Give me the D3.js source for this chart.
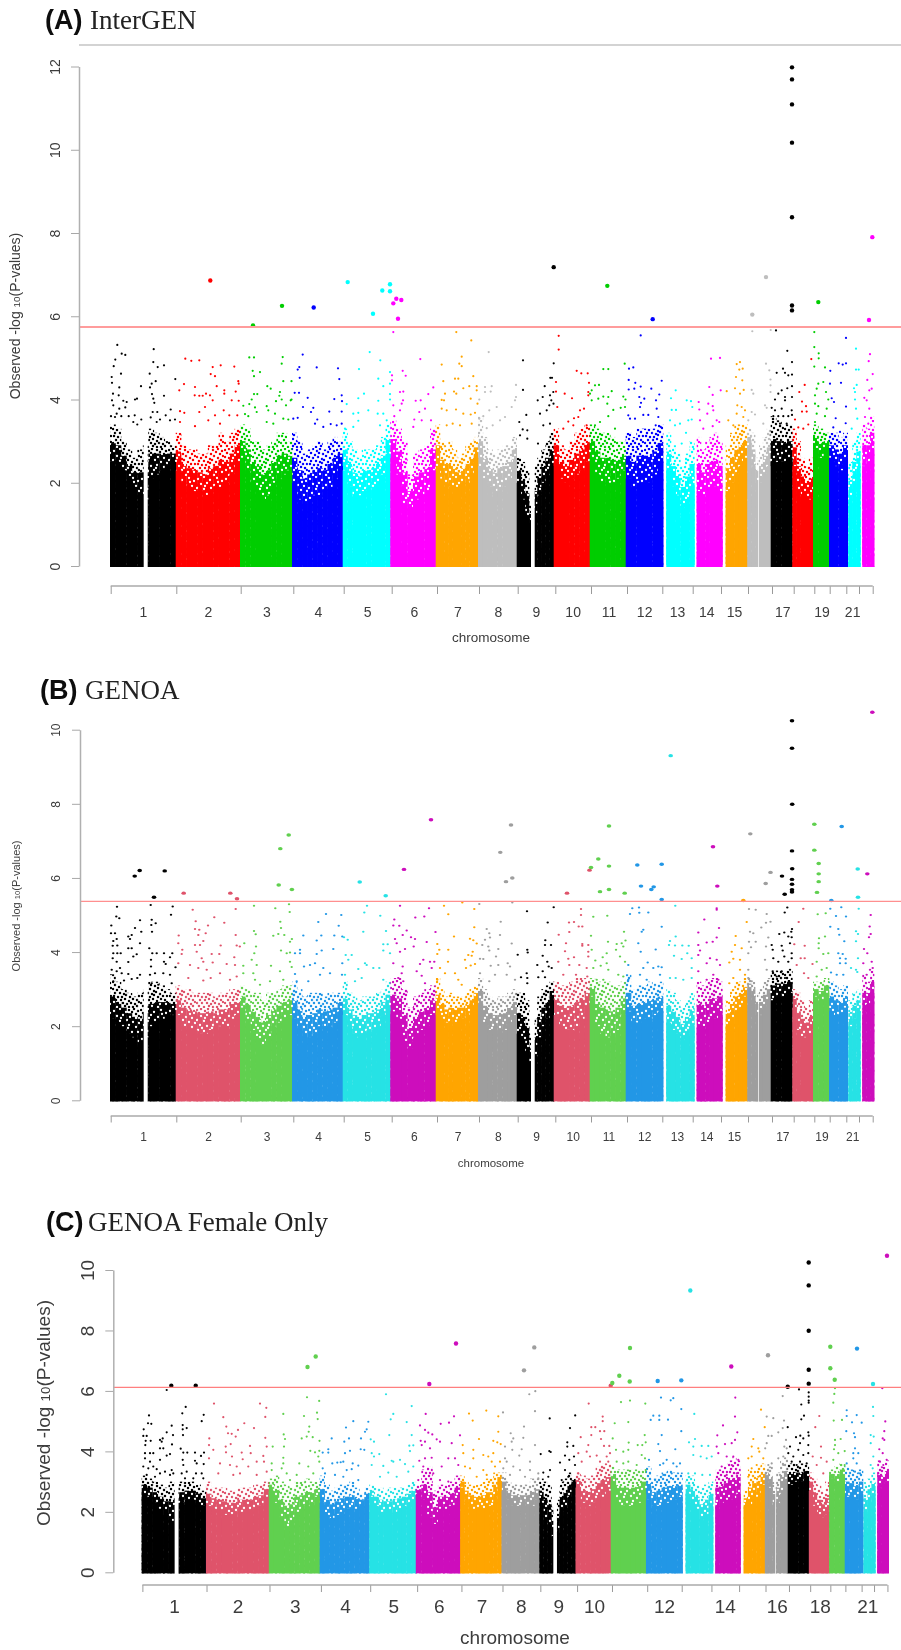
<!DOCTYPE html>
<html>
<head>
<meta charset="utf-8">
<title>Manhattan plots</title>
<script src="https://cdn.jsdelivr.net/npm/d3@7"></script>
<style>
  html, body { margin: 0; padding: 0; background: #fff; }
  svg { display: block; }
  text { font-family: "Liberation Sans", Arial, sans-serif; }
</style>
</head>
<body>
<div id="svg-container"></div>
<script>
//==============================
// DATA
//==============================
// genome axis runs 0..764, chromosomes laid out one after the other
const genomeSpan = 764;
const chrStart = [0, 65.7, 130, 182, 232.7, 280.3, 325.7, 368, 406.7, 443.7, 479.7, 515.7, 556.3, 586.7, 615.7, 637.3, 660.7, 682.3, 703, 719, 738.3, 752.3];
const chrEnd = [65.7, 130, 182, 232.7, 280.3, 325.7, 368, 406.7, 443.7, 479.7, 515.7, 553, 584.3, 612.3, 637.3, 660.7, 682.3, 703, 719, 737.7, 750.3, 764];
// centromere gaps where nothing is plotted
const chrGaps = [[33.7, 37.7], [421, 424.7], [648, 648.7]];
const tickPos = [0.7, 66.3, 130.7, 183.3, 233.7, 281.7, 327, 369, 407.7, 445.3, 481, 517, 552.3, 582.7, 611, 638, 662, 683.7, 704.3, 719.7, 736.3, 749, 762.7];
const labelsAB = ["1", "2", "3", "4", "5", "6", "7", "8", "9", "10", "11", "12", "13", "14", "15", "", "17", "", "19", "", "21", ""];
const labelsC = ["1", "2", "3", "4", "5", "6", "7", "8", "9", "10", "", "12", "", "14", "", "16", "", "18", "", "", "21", ""];
// colours repeat every 8 chromosomes, old R palette in A and R4 palette in B and C
const paletteOld = ["#000000", "#ff0000", "#00cd00", "#0000ff", "#00ffff", "#ff00ff", "#ffa500", "#bebebe"];
const paletteR4 = ["#000000", "#df536b", "#61d04f", "#2297e6", "#28e2e5", "#cd0bbc", "#ffa500", "#9e9e9e"];

// height where each chromosome is still solid, columns read left to right
const solidA = [[2.5,2.5,2.3,2.1,1.9,1.7,1.6,2.1,2.2,2.3,2.4,2.5],[2.3,2.0,1.9,1.8,1.8,1.7,1.8,1.9,1.9,2.0,2.2,2.5],[2.6,2.3,2.0,1.8,1.6,1.7,2.0,2.1,2.2,2.3],[2.0,1.6,1.5,1.6,1.7,1.7,1.8,1.9,2.1,2.4],[2.3,1.9,1.7,1.7,1.8,1.8,1.9,2.0,2.2,2.7],[2.6,2.2,1.5,1.4,1.6,1.7,1.8,2.3],[2.4,2.1,2.0,1.9,1.9,1.9,2.0,2.0,2.2,2.6],[2.4,2.1,1.9,1.8,1.9,1.9,2.1,2.5],[2.0,1.6,1.2,1.0,1.2,1.7,2.0,2.2,2.4],[2.5,2.1,2.0,2.1,2.2,2.3,2.5],[2.6,2.2,2.0,2.0,2.0,2.1,2.3],[2.1,1.9,2.0,2.0,2.0,2.2,2.5],[2.3,1.9,1.7,1.4,1.6,1.9],[1.8,1.7,1.9,1.9,1.9,1.8],[1.8,2.0,2.2,2.4,2.6],[2.9,2.4,2.0,2.0,2.2,2.4],[2.5,2.5,2.5,2.6],[2.4,1.8,1.7,1.6,1.6],[2.8,2.6,2.8],[2.6,2.4,2.3,2.6],[1.6,2.0,2.3],[2.4,2.5,2.8]];
const solidB = [[2.2,2.1,2.0,1.8,1.7,1.5,1.7,2.0,2.1,2.2,2.3,2.3],[2.3,2.0,1.9,1.9,1.8,1.8,1.9,1.9,2.0,2.0,2.2,2.3],[2.5,2.2,1.9,1.6,1.5,1.7,2.0,2.1,2.2,2.3],[2.2,1.9,1.7,1.7,1.8,2.0,2.0,2.0,2.1,2.4],[2.3,2.0,1.8,1.7,1.8,1.9,1.9,2.0,2.3,2.5],[2.4,2.2,1.6,1.4,1.7,1.9,2.0,2.3],[2.4,2.2,2.1,2.1,2.1,2.2,2.2,2.3,2.4,2.7],[2.6,2.1,1.9,1.9,1.9,1.9,2.1,2.3],[1.8,1.6,1.3,1.0,1.2,1.7,2.0,2.2,2.7],[2.3,2.0,1.9,1.9,2.0,2.2,2.5],[2.8,2.0,1.8,1.7,1.7,1.9,2.3],[2.4,2.1,2.1,2.2,2.2,2.3,2.4],[2.1,1.9,1.8,1.6,1.8,2.0],[2.0,2.0,2.1,2.2,2.2,2.4],[2.0,2.2,2.4,2.5,2.8],[3.0,2.8,2.3,2.3,2.5,2.7],[2.7,2.8,2.8,2.9],[2.5,1.9,1.7,1.7,1.8],[2.8,2.7,2.9],[2.4,2.3,2.3,2.5],[2.0,2.2,2.4],[2.4,2.6,2.9]];
const solidC = [[2.6,2.5,2.3,2.1,1.9,1.7,1.9,2.3,2.4,2.4,2.3,2.2],[2.2,2.1,2.0,1.9,1.9,1.9,2.0,2.0,2.0,2.1,2.2,2.5],[2.7,2.3,1.8,1.5,1.7,2.0,2.1,2.2,2.3,2.5],[2.3,1.9,1.8,1.9,2.0,2.1,2.1,2.1,2.2,2.4],[2.5,2.2,2.0,2.0,1.9,2.0,2.1,2.2,2.3,2.4],[2.6,2.4,1.8,1.6,2.1,2.1,2.2,2.4],[2.8,2.4,2.2,2.1,2.1,2.1,2.2,2.2,2.5,3.0],[2.7,2.4,2.2,2.2,2.2,2.2,2.2,2.4],[2.3,1.8,1.6,1.2,1.3,2.0,2.2,2.5,3.0],[2.8,2.3,2.2,2.3,2.4,2.5,2.7],[3.0,2.3,2.2,2.2,2.2,2.3,2.6],[2.4,2.2,2.2,2.3,2.3,2.4,2.5],[2.6,2.3,2.1,1.7,1.9,2.2],[2.2,2.3,2.4,2.4,2.4,2.6],[2.2,2.2,2.5,2.5,2.9],[3.1,2.8,2.2,2.3,2.6,2.9],[2.9,3.0,3.0,3.1],[2.7,2.2,1.9,1.8,1.9],[3.1,3.0,3.2],[2.5,2.5,2.4,2.6],[2.0,2.4,2.6],[2.8,2.9,3.0]];
// top of the dense speckled zone above the solid part
const fringeA = [[3.4,3.3,3.0,2.8,2.6,2.8,2.9,3.3,3.2,3.1,3.0,2.9],[3.2,2.9,2.8,2.8,2.7,2.7,2.9,2.9,3.2,3.0,3.2,3.3],[3.4,3.3,3.0,3.0,2.8,2.9,3.0,3.2,3.2,3.0],[3.2,3.0,2.7,2.8,2.9,3.0,2.8,3.0,3.1,3.0],[3.3,3.0,2.8,2.6,2.8,2.8,2.8,2.9,3.1,3.4],[3.5,3.3,3.0,2.2,2.7,2.8,2.9,3.3],[3.4,3.0,2.9,3.0,2.8,2.6,2.7,2.9,3.0,3.1],[3.6,3.1,2.8,2.7,2.8,2.9,2.9,3.1],[2.6,2.5,2.3,1.5,2.4,2.6,2.8,3.0,3.2],[3.3,2.9,2.8,3.0,3.2,3.3,3.4],[3.4,3.3,3.2,3.2,3.1,3.0,3.0],[3.2,3.1,3.3,3.3,3.3,3.3,3.4],[3.2,2.9,2.7,2.4,2.7,3.0],[3.1,2.8,3.0,3.1,3.2,3.0],[2.9,3.2,3.4,3.4,3.4],[3.3,3.2,2.6,2.9,3.1,3.3],[3.6,3.5,3.4,3.4],[3.3,3.0,2.6,2.4,2.6],[3.4,3.3,3.2],[3.2,3.2,3.1,3.2],[2.5,3.0,3.2],[3.4,3.3,3.6]];
const fringeB = [[3.4,3.2,3.0,2.9,2.8,2.9,3.0,3.2,3.2,3.1,3.0,2.9],[3.1,3.0,3.0,2.9,2.9,2.9,2.9,2.8,2.9,2.9,3.0,3.0],[3.1,3.0,2.9,2.9,2.7,2.9,2.9,3.0,3.1,3.1],[3.2,3.0,2.8,2.9,2.9,2.9,2.8,2.9,2.9,2.9],[3.2,2.9,2.8,2.7,2.8,2.8,2.8,2.9,3.0,3.2],[3.3,3.3,3.0,2.5,2.8,2.9,3.0,3.1],[3.3,3.0,2.8,2.9,2.8,2.8,2.8,2.9,3.0,3.1],[3.3,3.0,2.8,2.7,2.8,2.8,2.9,3.0],[2.9,2.9,2.7,1.8,2.2,2.8,3.0,3.1,3.2],[3.2,3.1,3.1,3.2,3.3,3.3,3.3],[3.3,3.2,3.2,3.2,3.1,3.1,3.2],[3.4,3.0,3.1,3.1,3.2,3.1,3.2],[3.0,2.9,2.7,2.5,2.7,2.9],[3.2,3.1,3.2,3.3,3.3,3.2],[2.7,3.0,3.2,3.2,3.3],[3.3,3.2,2.9,3.0,3.2,3.3],[3.5,3.5,3.5,3.5],[3.0,2.9,2.7,2.5,2.7],[3.2,3.2,3.3],[3.2,3.1,3.0,3.1],[2.7,2.9,3.0],[3.4,3.2,3.5]];
const fringeC = [[3.2,3.1,3.0,2.9,2.8,3.0,3.0,3.0,3.0,3.0,2.9,2.7],[3.0,2.8,2.8,2.8,2.7,2.7,2.8,2.8,2.8,2.9,2.9,3.0],[3.1,3.2,3.0,2.9,2.8,3.0,3.0,3.1,3.0,3.0],[3.2,2.9,2.7,2.8,2.9,2.9,3.0,2.8,2.6,2.8],[2.9,2.8,2.8,2.7,2.8,2.8,2.8,2.8,2.9,3.0],[2.9,3.4,3.5,2.7,2.9,2.9,3.0,3.2],[3.2,3.0,2.9,2.9,2.9,3.0,3.1,3.1,3.3,3.3],[3.3,3.0,2.9,2.9,2.9,2.9,3.1,3.1],[3.1,3.0,2.9,2.2,2.4,3.0,3.1,3.3,3.1],[3.3,3.2,3.1,3.2,3.5,3.6,3.6],[3.5,3.4,3.4,3.4,3.4,3.4,3.4],[3.5,3.1,3.2,3.3,3.4,3.3,3.3],[3.2,3.2,2.9,2.8,2.9,3.0],[3.4,3.4,3.5,3.7,3.8,3.7],[2.7,3.4,3.4,3.5,3.6],[3.5,3.5,3.0,3.3,3.7,3.8],[3.6,3.6,3.6,3.6],[3.3,3.1,2.9,2.7,3.0],[3.4,3.5,3.6],[3.5,3.4,3.3,3.4],[2.9,3.1,3.3],[3.7,3.5,3.7]];

// loose points above the dense zone: [position, -log10(p)]
const hitsA = [[100.3,6.86],[143,5.78],[172,6.25],[203.7,6.21],[237.7,6.82],[272.3,6.62],[280,6.77],[280,6.6],[263,6.06],[286.3,6.42],[283.3,6.31],[291.3,6.39],[288,5.94],[283.3,5.62],
[682,11.98],[682,11.69],[682,11.09],[682,10.17],[682,8.38],[682,6.26],[682,6.14],[443.7,7.18],[497.3,6.73],[542.7,5.93],[642.3,6.04],[656,6.94],[708.3,6.34],[762.3,7.9],[759,5.91],[346.3,5.62],[448.7,5.53],[530.7,5.54],[642.3,5.64],[660.7,5.67],[666,5.66],[704.3,5.62],[736,5.48],
[7.3,5.31],[5.3,4.96],[3.7,4.8],[11.7,5.1],[15.3,5.07],[11,4.62],[1.7,4.54],[2,4.4],[9.3,4.29],[3,4.14],[8.7,4.1],[2,3.98],[13.3,3.97],[16.7,3.94],[25,4.0],[27,4.02],[31,4.32],[3.3,3.86],[9.3,3.78],[15.3,3.81],[6.7,3.66],[1,3.6],[5,3.58],[11.3,3.6],[18.7,3.6],[24.7,3.62],[31.3,3.52],[23.3,3.46],[27.3,3.4],
[43.7,5.21],[43.3,4.9],[47.7,4.78],[54,4.82],[39.7,4.62],[65.3,4.49],[45.7,4.44],[41.7,4.38],[40,4.29],[42,4.13],[54,4.09],[43.3,4.02],[44.3,3.92],[60.7,3.76],[42.7,3.7],[47.3,3.7],[55.7,3.62],[40.7,3.57],[50,3.52],[60,3.5],[65,3.52],[46.7,3.46],
[75.3,4.98],[81.3,4.93],[89.3,4.94],[102.7,4.78],[100.7,4.61],[105,4.56],[110.7,4.82],[124.3,4.79],[128.3,4.44],[128.7,4.38],[74,4.37],[69.3,4.22],[85,4.3],[106.7,4.32],[114.3,4.22],[114.3,4.14],[125.7,4.19],[84.7,4.1],[89.3,4.09],[92.7,4.09],[96,4.14],[100,4.1],[102.7,3.98],[121.7,3.98],[128.7,3.97],[95,3.82],[70,3.72],[74.3,3.68],[89.3,3.7],[113.7,3.74],[127.3,3.62],[105,3.62],[119.3,3.62],[98.3,3.5],[110,3.42],[85,3.36],[70,3.46],
[139.3,5.01],[144,5.01],[172.7,5.02],[171.7,4.86],[142.7,4.69],[150,4.66],[144,4.56],[173.3,4.44],[181.5,4.44],[157.3,4.32],[160.7,4.26],[170,4.18],[169.3,4.09],[144,4.13],[147.3,4.13],[141.7,4.0],[166,3.96],[171.7,4],[180.7,3.98],[181.5,4],[139.3,3.89],[133.3,3.85],[145,3.81],[156.7,3.84],[176,3.86],[146.7,3.7],[135,3.65],[158.3,3.74],[165,3.66],[138.3,3.6],[173.3,3.54],[178.3,3.52],[156.7,3.46],[163.3,3.42],
[192.7,5.08],[189.3,4.78],[187.7,4.72],[206.7,4.77],[228,4.75],[189.7,4.52],[229.3,4.49],[184.7,4.16],[189,4.16],[231.7,4.1],[197.7,4.04],[224.3,4.01],[232,3.96],[193,3.82],[203.3,3.8],[201,3.7],[219.3,3.71],[231.7,3.71],[183.3,3.54],[187.7,3.56],[207.3,3.52],[205,3.42],[231.7,3.42],[213.3,3.34],[220.7,3.41],[226.7,3.38],
[259.7,5.14],[270.3,4.94],[249,4.73],[268.3,4.5],[273.3,4.32],[254,4.14],[248.3,4.03],[268.3,3.97],[236.7,3.89],[280,4.66],[280,4.38],[280,4.13],[280,4.0],[243.3,3.66],[248.3,3.68],[258.3,3.74],[267.7,3.66],[273.3,3.66],[235,3.3],[243.3,3.34],[248.3,3.49],[270,3.38],[276.7,3.5],
[310.3,4.97],[292.7,4.69],[295.7,4.57],[282,4.58],[282,4.46],[323.3,4.29],[318.3,4.13],[290,4.18],[293.3,4.19],[293,3.98],[305.7,3.97],[310.7,3.98],[291.7,3.9],[283.3,3.86],[315,3.78],[290,3.74],[309.3,3.7],[304.3,3.52],[311.7,3.5],[284.3,3.6],[303.3,3.34],[321,3.5],
[331.7,4.84],[333.3,4.44],[335,4.14],[331.7,3.99],[334,3.98],[336.7,3.74],[331.7,3.78],[336.7,3.38],[361.3,5.42],[351.7,5.03],[349.3,4.86],[351.7,4.8],[363.3,4.56],[345,4.5],[348.3,4.5],[353.3,4.27],[359.3,4.32],[366.7,4.32],[366.7,4.22],[344,4.19],[346.3,4.14],[360.7,4.02],[367.5,3.9],[346,3.76],[353.3,3.66],[360.7,3.64],[365,3.68],[342.7,3.42],[350,3.38],[361.7,3.42],
[378.7,5.14],[406,4.35],[375,4.3],[381.7,4.32],[380.7,4.19],[375,4.18],[406,4.06],[405,3.98],[369.3,4.0],[401.7,3.82],[386.7,3.82],[379.3,3.74],[373.3,3.6],[369.3,3.54],[390,3.5],[395,3.58],[382.7,3.38],[376.7,3.31],
[413,4.94],[413,4.23],[416.3,3.63],[409.3,3.46],[412.7,3.28],[417.3,3.26],[417.3,3.06],[410,3.14],[443.7,4.87],[440.3,4.52],[442,4.52],[434.7,4.32],[432.7,4.06],[427.7,3.98],[443.3,4.18],[440,4.1],[441.3,3.98],[443.5,3.9],[439.3,3.86],[436.7,3.74],[430,3.66],[440,3.42],[433.3,3.38],[428,2.94],
[448.7,5.2],[446,4.42],[446,4.19],[454.7,4.14],[462,4.03],[466.7,4.69],[471.3,4.63],[477.7,4.63],[479,4.4],[478.3,4.18],[478.3,4.1],[447.3,3.82],[474,3.78],[470,3.74],[464,3.55],[468.3,3.58],[458.3,3.47],[453.3,3.3],[476.7,3.38],[463.3,3.38],
[493.3,4.73],[498.3,4.73],[514.7,4.86],[485,4.34],[489,4.35],[481.7,4.22],[501.7,4.2],[480,4.14],[481.7,3.98],[493.3,4.07],[498.3,4.06],[513.3,4.07],[515.5,4.0],[488.3,4.02],[497.3,3.9],[503.3,3.75],[510.7,3.8],[515,3.82],[498.3,3.6],[490,3.46],[485,3.38],[505,3.3],
[519,4.74],[523.3,4.77],[518.7,4.47],[525.3,4.4],[551.7,4.45],[518.7,4.24],[524.3,4.26],[530.7,4.31],[541.3,4.26],[549.3,4.12],[529.3,4.06],[534.3,4.02],[531,3.92],[530,3.82],[546,3.98],[546.7,3.78],[518.3,3.62],[533.3,3.63],[538.3,3.63],[520,3.54],[525,3.54],[548.3,3.58],[550.7,3.34],[545.7,3.38],
[565.7,4.22],[561,4.03],[576.7,3.98],[581,3.96],[582.3,3.82],[561.7,3.75],[566,3.75],[560,3.5],[565,3.38],[570,3.42],[581.7,3.52],[578.3,3.5],[576,3.2],[571.7,2.94],
[601,4.98],[610,5.0],[599.3,4.3],[610.7,4.22],[602.7,4.11],[588.7,3.94],[598.3,3.9],[602.7,3.84],[589.3,3.76],[597.3,3.66],[603.3,3.74],[590,3.5],[606.7,3.5],[609.3,3.46],[593.3,3.3],[602.7,3.36],
[616.7,4.2],[630,4.9],[626.7,4.85],[629.3,4.72],[632.7,4.74],[626,4.54],[632.3,4.46],[625,4.27],[633.7,4.23],[630,4.14],[627.3,3.86],[631.7,3.82],[635,3.74],[618.3,3.5],[626.7,3.66],[633.3,3.58],[623.3,3.38],
[656,4.86],[659.3,4.7],[641.7,4.23],[643.3,4.14],[660.5,4.48],[660.5,4.34],[660.5,4.18],[641.7,3.7],[655,3.86],[656.7,3.8],[645,3.64],[638.3,3.5],[653.3,3.42],
[677.3,5.17],[682,4.9],[666.7,4.64],[673,4.74],[675,4.64],[678.3,4.58],[682,4.6],[682,4.32],[677.3,4.27],[671.7,4.22],[668.3,4.14],[675,4.06],[682,4.06],[665,4],[675,3.98],[661.7,3.8],[671.7,3.78],[665,3.74],[681.7,3.74],[663.3,3.6],[668.3,3.6],[673.3,3.6],[678.3,3.6],[682,3.63],[670,3.42],[676.7,3.42],
[694.7,4.35],[701.3,4.97],[689.3,4.18],[692,3.95],[696,3.84],[692,3.71],[696.7,3.71],[685,3.52],[698.3,3.4],[688.3,3.33],[693.3,3.3],
[704.3,5.26],[708.7,5.11],[708.7,4.99],[704.3,4.79],[715,4.77],[720.3,4.69],[708.3,4.38],[713.3,4.42],[706.7,4.26],[716,4.18],[705,4.1],[718.3,4],[705,3.9],[708.3,3.84],[716.7,3.78],[706.7,3.66],[715,3.6],[705,3.46],
[728.7,4.87],[736,4.87],[732.7,4.84],[720,4.38],[731,4.4],[721.7,4.03],[724,3.94],[736,3.83],[725.7,3.55],[735.7,3.43],[723.3,3.33],[730,3.22],
[746,5.22],[746,4.72],[748.7,4.72],[746.7,4.35],[744,4.27],[745,4.18],[745,4],[746,3.78],[747.3,3.54],[741.7,3.3],
[760,5.09],[758.7,4.92],[762.7,4.61],[757.3,4.47],[761.7,4.26],[759.3,4.22],[754.3,4.04],[756.7,3.98],[759.3,3.78],[755,3.58],[758.3,3.42]];

const hitsB = [[24.7,6.05],[29.7,6.2],[54.7,6.19],[44,5.48],[73.7,5.59],[120.3,5.59],[127,5.44],[170.3,6.79],[178.7,7.16],[168.7,5.81],[181.9,5.69],[249.7,5.89],[275.7,5.52],[294,6.23],[321,7.57],
[401,7.43],[390.3,6.69],[396,5.9],[402.3,6.0],[457,5.59],[479.5,6.21],[481,6.28],[488.3,6.51],[499,7.4],[499,6.32],[490,5.63],[499,5.69],[514.7,5.59],[527.3,6.35],[551.7,6.37],[531,5.78],[541.3,5.69],[543.7,5.76],[551.7,5.42],[560.7,9.3],[603,6.84],[607.3,5.78],[633.3,5.39],[640.3,7.19],[660.5,6.15],[655.7,5.85],[672,6.05],[674.7,5.56],[682,10.24],[682,9.5],[682.2,7.99],[682,6.73],[682.2,6.25],[682,5.96],[682,5.83],[682,5.68],[682,5.62],[704.3,7.45],[704.3,6.75],[708.7,6.39],[708.7,6.11],[708.7,5.9],[707,5.61],[731.7,7.39],[721.3,5.39],[747.7,6.24],[748,5.48],[762.3,10.47],[757.3,6.11],
[7,5.22],[6.3,4.96],[9.3,4.91],[1.3,4.72],[30,4.86],[25,4.65],[31.3,4.55],[1,4.51],[5,4.51],[18.3,4.42],[21.7,4.46],[20,4.35],[6.7,4.35],[3.3,4.3],[2.7,4.17],[7.3,4.18],[30,4.24],[18.3,4.1],[21.7,4.1],[3.3,3.97],[7.3,3.97],[10.7,3.97],[26.7,3.94],[23.3,3.88],[2.7,3.83],[18.3,3.73],[6.7,3.74],[10,3.57],[1.7,3.52],[6.7,3.48],[11.7,3.43],[18.3,3.41],[30,3.39],[27.3,3.3],[21.7,3.27],[14,3.23],[3.3,3.21],
[40.7,5.27],[62.7,5.23],[61,5.01],[41.7,4.87],[41.3,4.73],[45.7,4.78],[42,4.55],[39.3,4.1],[42.3,3.97],[46.7,3.97],[54,3.97],[62.3,3.97],[60,3.86],[41,3.79],[54,3.74],[65.5,3.59],[41,3.61],[55.7,3.68],[40,3.39],[45,3.43],[53.3,3.43],[60,3.39],[41.7,3.16],[48.3,3.12],[61.7,3.16],
[82.7,5.14],[104.3,4.94],[125.7,5.16],[85.7,4.83],[114.3,4.79],[98,4.72],[85,4.62],[89.3,4.6],[95.7,4.51],[68.7,4.45],[88.3,4.46],[125.7,4.46],[68.3,4.24],[85,4.19],[110.7,4.18],[93.3,4.3],[90,4.19],[72.3,4.06],[126.7,4.18],[129.8,4.15],[86.7,4.01],[71.7,3.95],[101.7,3.95],[109.3,3.95],[124.3,3.86],[91.7,3.83],[93.3,3.74],[68.3,3.7],[80,3.65],[102.7,3.72],[116.7,3.68],[125,3.65],[88.3,3.57],[96.7,3.52],[110,3.43],[100.7,3.3],[78.3,3.3],[126.7,3.34],[120,3.25],[93.3,3.23],
[144,5.25],[165.3,5.18],[179,5.29],[179.7,5.08],[170.3,4.82],[171,4.65],[144,4.57],[145.7,4.48],[168.3,4.49],[163.3,4.44],[174.3,4.46],[181.9,4.35],[146,4.15],[134.3,4.24],[180,4.28],[171,4.04],[176.7,3.97],[180,3.99],[144.3,3.97],[180,3.74],[141.7,3.79],[146.7,3.65],[133.3,3.63],[161,3.63],[170,3.48],[143.3,3.43],[133.3,3.43],[181.7,3.6],[145,3.25],[160,3.21],[173.3,3.25],[150,3.12],
[216,5.03],[231.3,5],[208.3,4.81],[228.7,4.71],[193.3,4.45],[211.3,4.45],[224.3,4.45],[206.7,4.31],[232.3,4.42],[190,4.06],[185,3.97],[190,3.97],[211.7,4.04],[206.7,3.95],[223.3,4.08],[194,3.61],[200,3.65],[205,3.7],[213.3,3.57],[232.3,3.7],[185,3.41],[210,3.39],[220,3.43],[232,3.39],[198.3,3.21],[186.7,3.21],
[257,5.25],[254.3,5.07],[270.3,4.98],[253.3,4.55],[276,4.57],[234,4.4],[237.7,4.33],[273.3,4.21],[277.7,4.21],[273.3,4.04],[280,3.97],[235.7,3.92],[241.7,3.92],[238.3,3.79],[255,3.7],[256.7,3.65],[248.3,3.54],[263.3,3.57],[269.3,3.57],[235,3.39],[251.7,3.3],[273.3,3.25],[245,3.21],
[290,5.25],[319,5.18],[314.3,4.96],[305.3,4.93],[284.3,4.88],[283.3,4.72],[289.3,4.71],[325.5,4.54],[292.7,4.46],[296.7,4.58],[301,4.4],[285,4.35],[286.7,4.24],[305,4.35],[316.7,4.27],[303.7,4.15],[295,4.08],[290,4.01],[283.3,3.7],[292.7,3.61],[313.3,3.79],[320,3.74],[324.3,3.74],[310,3.68],[321.7,3.57],[311.7,3.36],[291.7,3.43],[288.3,3.3],[306.7,3.48],[293.3,3.21],[315,3.16],
[334,5.25],[338.3,5.02],[327.3,4.22],[329.3,4.06],[338.3,4.06],[327.3,3.95],[338,3.74],[330,3.57],[335,3.43],[327.3,3.25],[352.3,5.34],[364.3,5.16],[364.3,4.67],[344,4.42],[360,4.36],[363.3,4.32],[366.7,4.23],[362.7,4.01],[358.3,3.92],[361.7,3.9],[355,3.79],[345,3.43],[365,3.68],[360.7,3.64],[348.3,3.25],[356,3.57],[351.7,3.12],
[369.3,5.3],[402.3,5.34],[390.7,4.82],[376.7,4.62],[379.3,4.51],[390,4.46],[380,4.39],[375,4.33],[401.7,4.23],[372.3,4.19],[378.3,4.15],[388.3,4.08],[379.3,4.04],[386,3.88],[370,3.82],[373.3,3.81],[388.3,3.65],[397.7,3.7],[380.7,3.63],[400,3.61],[370,3.43],[396.7,3.39],[385,3.39],[379.3,3.21],[405,3.25],
[417,5.1],[443.7,5.21],[437.7,4.8],[435.3,4.32],[435,4.19],[441,4.19],[417.3,4.06],[417.7,3.99],[407.7,3.93],[432.7,3.9],[437.3,3.74],[427.3,3.65],[438.7,3.61],[432.7,3.48],[416.7,3.43],[441.7,3.57],[411,3.32],[417.3,3.3],[428.3,3.32],[435,3.32],[417.3,3.16],
[471,5.16],[471,5],[459,4.8],[464,4.81],[468.7,4.69],[472.3,4.69],[448.7,4.47],[459.3,4.54],[456,4.24],[472.3,4.22],[472.3,4.17],[478.3,4.19],[455,4.02],[478.3,4.01],[458.3,3.82],[464,3.86],[469.3,3.65],[448.3,3.74],[478.3,3.88],[459.3,3.65],[476.7,3.57],[453.3,3.39],[466,3.39],[477.3,3.34],
[483.3,4.95],[497.3,4.98],[481,4.44],[514,4.55],[498,4.28],[515.5,4.31],[511.7,4.24],[506.7,4.22],[513.3,4.15],[481.7,4.06],[506,4.06],[496.7,3.97],[492.7,3.86],[485.3,3.77],[510,3.88],[515,3.74],[496.7,3.7],[490.7,3.63],[498.3,3.52],[483.3,3.57],[508.3,3.39],[513.3,3.34],[493.3,3.25],[486.7,3.25],
[522.3,5.18],[529,5.2],[520,5.03],[529.3,5.06],[538.3,5.07],[551.7,4.68],[533.3,4.6],[531.7,4.55],[528.3,4.24],[545.7,4.07],[530.7,4.01],[537.7,3.72],[518.3,3.65],[533.3,3.57],[543.3,3.57],[548.3,3.61],[551.7,3.59],[530,3.39],[550,3.39],[536.7,3.25],[518.3,3.25],[545,3.12],
[565.3,5.25],[565.7,4.42],[560,4.3],[559,4.19],[565,4.18],[572.3,4.18],[578.7,4.17],[564,3.9],[577.3,3.97],[581.7,3.83],[571.7,3.81],[581.7,3.57],[560,3.3],[565.7,3.3],[573.3,3.25],[581.7,3.3],
[606.7,5.18],[606.7,5.14],[594.3,4.88],[609,4.65],[588.3,4.53],[606.7,4.39],[602.7,4.28],[596.7,4.26],[588.3,4.19],[590,4.04],[588.3,3.92],[600,3.83],[606.7,3.79],[596.7,3.7],[610,3.65],[588.3,3.48],[603.3,3.39],[596.7,3.25],[608.3,3.25],
[625.7,4.43],[636.7,4.81],[625,4.19],[631.7,4.1],[621.7,4.01],[630,3.79],[623.3,3.82],[619.3,3.72],[630,3.52],[635,3.39],[623.3,3.3],[619.3,3.16],
[639,5.16],[645.7,5.14],[656.7,5.03],[660.5,4.82],[656,4.79],[651.3,4.66],[640,4.55],[643.3,4.51],[645.7,4.28],[639,4.28],[658.3,4.39],[656,4.15],[641,4.13],[638.3,3.97],[655,3.79],[656.7,3.52],[638.3,3.52],[638.3,3.3],[641.7,3.21],
[677.3,5.2],[674.7,5.07],[682,4.62],[681.3,4.55],[669.3,4.49],[674.3,4.53],[678.3,4.42],[681.7,4.4],[661.7,4.19],[671.7,4.17],[680,4.24],[662.7,4.06],[672.7,4.04],[681.7,3.97],[674.3,3.88],[663.3,3.83],[681.7,3.83],[668.3,3.74],[678.3,3.74],[662.7,3.48],[671.7,3.48],[680,3.52],[666.7,3.34],[675,3.3],
[693.3,5.17],[688.7,4.81],[684.3,4.21],[694.7,4.17],[686.7,3.65],[690.7,3.83],[694.7,3.83],[694,3.43],[698.3,3.3],[702.5,3.68],
[707.7,5.02],[715.7,5.05],[709,4.37],[715,4.42],[708.7,4.24],[708.7,4.1],[713.3,3.95],[718.3,3.97],[706.7,3.74],[716.7,3.57],[711.7,3.52],[706.7,3.34],
[720.3,5.17],[731.3,5.21],[726,4.97],[736,4.96],[720.3,4.68],[728.3,4.62],[729.3,4.47],[734.3,4.29],[728.3,3.97],[732.7,3.95],[730,3.83],[735.7,3.82],[730,3.7],[735.7,3.7],[721,3.45],[726.7,3.39],[733.3,3.39],
[748.7,5.17],[746,4.56],[748,4.49],[746,4.29],[741,3.57],[748,3.83],[746,3.52],[747.3,3.46],
[760.7,5],[759.7,4.69],[760.7,4.49],[759,4.4],[754,4.08],[757.3,3.97],[753.3,3.7],[761.7,3.74],[760,3.52],[756.7,3.39],[762.7,3.57]];

// panel C is narrower, its positions are read on its own 0..747 plot width
const hitsC = [[29.6,6.17],[54,6.17],[25,6.03],[7.3,5.19],[6.3,4.93],[9.6,4.91],[2,4.73],[30,4.85],[25,4.63],[31.3,4.54],[1.6,4.51],[5,4.51],[21,4.43],[18.3,4.38],[20,4.32],[4,4.35],[9,4.35],[3.6,4.21],[30.3,4.23],[18.3,4.1],[21.6,4.1],[3.3,3.94],[8.3,3.94],[11.6,3.94],[28.3,3.91],[25,3.86],[3.3,3.77],[18.3,3.72],[8.3,3.66],[11.6,3.5],[1.6,3.5],[6.6,3.44],[15,3.41],[30,3.38],[23.3,3.33],[18.3,3.27],[31.6,3.27],[5,3.22],[13.3,3.16],[28.3,3.22],
[40.6,5.26],[44,5.47],[62,5.21],[60,5],[41,4.87],[41,4.73],[45,4.77],[41.3,4.54],[39,4.09],[41.6,3.96],[45.6,3.96],[53.3,3.96],[62.3,3.96],[59.3,3.85],[41,3.72],[53.3,3.69],[41.6,3.55],[55,3.6],[62,3.58],[40,3.27],[45,3.33],[54.3,3.27],[60,3.27],[43.3,3.11],[51.6,3.11],[61.6,3.11],
[72.3,5.58],[118.3,5.58],[124.6,5.44],[123.6,5.14],[81.6,5.13],[102.6,4.93],[112.3,4.77],[84.6,4.82],[96.3,4.71],[86.3,4.6],[90,4.58],[94,4.49],[67.6,4.43],[123.6,4.45],[67.3,4.21],[84,4.16],[108.3,4.18],[89,4.24],[125,4.16],[71.6,4.05],[84.3,3.97],[100,3.96],[109,3.94],[121.6,3.85],[90.3,3.83],[67.3,3.77],[78.3,3.6],[101,3.74],[115,3.66],[122.3,3.66],[88.3,3.55],[95,3.5],[106.6,3.5],[76.6,3.27],[98.3,3.27],[115,3.22],[125,3.33],[91.6,3.22],
[141.6,5.24],[165.3,5.79],[177.5,5.67],[175.3,5.28],[162.3,5.17],[176,5.07],[167.6,4.82],[142,4.56],[167,4.65],[143.3,4.41],[160,4.43],[165,4.49],[171,4.47],[177.8,4.35],[142.3,4.16],[131,4.16],[168.6,4.02],[173.3,3.97],[177.6,4.02],[141.6,3.79],[176.6,3.83],[130,3.6],[157.6,3.6],[141.6,3.6],[177.6,3.66],[166.6,3.5],[140,3.44],[130,3.38],[145,3.27],[155,3.22],[171.6,3.27],[148.3,3.05],
[165.8,6.79],[174,7.14],
[211.6,5],[226.6,4.98],[204.3,4.79],[225,4.73],[223.3,4.65],[190,4.43],[207.3,4.43],[219.3,4.43],[202.6,4.32],[186.6,4.07],[181,3.96],[186.6,3.96],[208.3,4.02],[203.3,3.94],[219,4.07],[222.6,4.05],[190.6,3.6],[195.6,3.63],[199,3.64],[201.6,3.66],[211,3.6],[216.6,3.53],[181,3.44],[205,3.38],[210,3.41],[193.3,3.22],[201.6,3.16],[183.3,3.27],[216.6,3.05],
[244.3,5.89],[270,5.5],[251.6,5.24],[249,5.06],[265,4.97],[247.6,4.54],[270,4.54],[229,4.4],[232.3,4.32],[267.6,4.19],[271.6,4.2],[268.3,4.01],[230,3.94],[237.6,3.91],[232.3,3.83],[250,3.69],[251.6,3.66],[258.3,3.72],[263.3,3.58],[241.6,3.52],[230,3.55],[246.6,3.3],[266.6,3.33],[255,3.16],[238.3,3.16],[271.6,3.5],
[287.6,6.23],[284,5.24],[278.3,4.86],[283.3,4.71],[299,4.91],[307.3,4.95],[286.6,4.62],[290.6,4.56],[279,4.35],[283.3,4.32],[280,4.21],[295,4.4],[298.3,4.32],[288.3,4.1],[277.6,3.69],[283.3,3.77],[306.6,3.77],[290,3.79],[300,3.5],[281.6,3.5],[291.6,3.27],[276.6,3.05],[298.3,3.05],[306.6,3],
[314.3,7.57],[312.3,5.16],[318.3,4.53],[310,4.27],[313.3,3.77],[316.6,3.55],
[327.3,5.25],[331,5.02],[344.6,5.35],[356.6,5.16],[356.6,4.65],[337.3,4.41],[351.6,4.35],[355.6,4.3],[359,4.24],[321,4.21],[321.6,3.94],[331.6,4.05],[341.6,3.88],[346.6,3.83],[351.6,3.94],[323.3,3.5],[331.6,3.77],[350,3.66],[358.3,3.66],[328.3,3.44],[341.6,3.38],[353.3,3.5],[335,3.16],[345,3.22],
[382.3,6.68],[392.6,7.44],[387.6,5.89],[393.6,5.99],[393.3,5.33],[361.3,5.29],[382.3,4.82],[369,4.6],[371.6,4.43],[381.6,4.45],[370,4.32],[363.3,4.16],[370.6,4.05],[380,4.07],[393.3,4.21],[377.6,3.86],[363.3,3.77],[365,3.66],[388.3,3.66],[371.6,3.5],[378.3,3.38],[388.3,3.38],[396.6,3.27],[361.6,3.44],[368.3,3.22],[383.3,3.16],[396.6,3.11],
[408,5.09],[433.5,5.19],[428.3,4.77],[407.6,4.01],[409,3.98],[399,3.91],[425.6,4.3],[425.6,4.16],[431.6,4.18],[423.3,3.86],[432.3,3.83],[418.3,3.63],[427.6,3.72],[408.3,3.38],[401.6,3.3],[423.3,3.38],[406.6,3.16],[433.3,3.55],[426.6,3.16],[420,3.05],
[447,5.58],[461,5.15],[461,5],[449.6,4.8],[453.6,4.8],[458.3,4.67],[462.6,4.67],[439,4.47],[449.6,4.54],[459.3,4.41],[446.6,4.21],[462.3,4.18],[467.6,4.18],[445,3.99],[468.3,3.94],[436.6,3.94],[448.3,3.83],[455,3.86],[440,3.66],[458.3,3.66],[466.6,3.66],[465,3.83],[436.6,3.27],
[469,6.17],[470.6,6.26],[477.6,6.5],[488.3,7.42],[488,6.31],[479.3,5.63],[488.3,5.68],[503.6,5.58],[473,4.93],[486.6,4.97],[471,4.43],[487,4.29],[503,4.54],[496,4.21],[500.6,4.21],[504,4.3],[481.6,3.99],[474.3,4.05],[486.6,4.05],[500,3.88],[503.3,3.77],[475,3.66],[486.6,3.66],[481.6,3.6],[495,3.55],[504,3.38],
[516,6.33],[539.6,6.35],[519.3,5.78],[529,5.69],[531.6,5.76],[539.6,5.4],[509,5.04],[511.6,5.18],[517.6,5.18],[517.6,5.04],[526.3,5.05],[539.6,4.67],[520,4.54],[516.6,4.24],[518.3,4.01],[533.6,4.07],[507.3,3.72],[525,3.72],[521.6,3.6],[518.3,3.55],[531.6,3.6],[538.3,3.6],[508.3,3.27],[521.6,3.22],[530,3.27],[535,3.5],[513.3,3.05],
[548.6,9.32],[552.6,5.24],[553.3,4.41],[547.3,4.3],[551.6,4.16],[560,4.18],[566.6,4.18],[551.6,3.88],[559,3.83],[570,3.83],[565,3.77],[553.3,3.27],[560.6,3.22],[568.3,3.22],[546.6,3.27],
[589.6,6.81],[593.6,5.78],[593.3,5.15],[581.3,4.86],[575.6,4.53],[595.6,4.63],[593.3,4.38],[590,4.27],[583.3,4.24],[575,4.16],[576.6,3.94],[585,3.83],[591.6,3.83],[596.6,3.72],[580,3.5],[590,3.55],[595,3.27],[585,3.22],
[619.3,5.38],[623,4.8],[611.6,4.41],[610,4.16],[616.6,4.1],[617.6,3.99],[606.6,3.77],[610,3.83],[621.6,3.77],[615,3.55],[606.6,3.16],[616.6,3.16],[610,3.44],
[626.3,7.18],[646,6.14],[641,5.83],[625,5.15],[631.6,5.1],[642.3,5.02],[646,4.8],[636.6,4.63],[641,4.77],[626.6,4.51],[630,4.51],[625,4.27],[623.5,4.1],[644.3,4.38],[642.6,4.16],[645,4.1],[636.6,3.77],[641.6,3.83],[626.6,3.55],[630,3.6],[641.6,3.55],[624.3,3.27],[638.3,3.22],
[667,10.25],[667,9.49],[667,7.99],[667,6.7],[667,6.24],[657.3,6.05],[667,5.95],[667,5.81],[667,5.68],[667,5.61],[659.6,5.55],[662.3,5.18],[659.6,5.06],[666.6,4.63],[667,4.52],[658.6,4.52],[654.3,4.47],[661.6,4.43],[658.3,4.27],[666.6,4.21],[648.3,4.16],[656.6,4.05],[666.6,3.94],[661.6,3.88],[646.6,3.94],[651.6,3.83],[658.3,3.66],[650,3.66],[665,3.6],[655,3.55],
[677.6,5.17],[673.6,4.8],[679.3,4.16],[671,3.83],[679.3,3.79],[685,3.66],[675,3.55],[681.6,3.27],
[688.6,7.46],[688.6,6.75],[693,6.37],[693.3,6.09],[692.6,5.9],[691.6,5.61],[692,5.02],[700.3,5.04],[693.3,4.38],[699,4.41],[693.3,4.21],[692.3,4.07],[703,4.01],[696.6,3.94],[691.6,3.72],[703,3.55],[699.6,3.55],
[715.3,7.4],[705,5.36],[705,5.17],[715,5.2],[710.3,4.96],[720,4.95],[704.6,4.67],[712.3,4.6],[713.3,4.47],[713.3,4.1],[711.6,3.94],[716.6,3.94],[711.6,3.77],[715,3.6],[705,3.6],[713.3,3.33],[718.3,3.27],
[731.3,6.23],[731.3,5.47],[731.6,5.17],[729,4.54],[732,4.49],[729,4.27],[731.6,3.83],[729,3.55],[731,3.44],[723.3,2.95],
[745.3,10.47],[740.6,6.09],[743.6,4.99],[742.6,4.67],[741,4.43],[742.6,4.38],[737.6,4.07],[741,3.94],[745,3.72],[738.3,3.66],[741.6,3.55],[736.6,3.27]];

//==============================
// TEXTURE
//==============================
// The dense zone has far too many points to read one by one, so it is drawn as an
// area with a speckled fill. These are offsets inside one 28px texture tile, not data.
const tileSize = 28;
const sparseTile = [[1,2],[5,1],[9,3],[12,1],[17,2],[22,1],[26,3],[3,5],[7,7],[11,5],[15,6],[20,4],[24,6],[1,9],[5,10],[10,9],[14,11],[18,8],[22,10],[27,8],[3,13],[8,13],[12,14],[16,12],[20,14],[25,12],[2,16],[6,17],[10,17],[14,15],[18,17],[23,16],[27,16],[4,20],[9,20],[13,19],[17,21],[21,19],[25,20],[1,23],[6,23],[11,23],[15,24],[19,23],[23,24],[27,22],[3,26],[8,27],[13,26],[17,27],[21,27],[25,26]];
const denseTile = [[2,3],[8,1],[14,4],[21,2],[26,5],[5,8],[11,7],[18,9],[24,10],[1,12],[8,13],[15,12],[21,14],[27,15],[4,17],[11,18],[17,17],[24,19],[2,22],[8,23],[14,22],[20,24],[26,24],[5,27],[12,26],[18,27],[9,10],[22,6],[16,20],[6,20]];

//==============================
// DRAW
//==============================
const svg = d3.select("#svg-container").append("svg")
    .attr("width", 901)
    .attr("height", 1650);
const defs = svg.append("defs");

// slight softening, the reference is a scaled bitmap
defs.append("filter")
    .attr("id", "soft")
    .attr("filterUnits", "userSpaceOnUse")
    .attr("x", 0).attr("y", 0).attr("width", 901).attr("height", 1650)
    .append("feGaussianBlur")
    .attr("stdDeviation", 0.4);

// one pair of speckle fills per colour
const addPatterns = (name, palette) => {
    palette.forEach((c, i) => {
        const sparse = defs.append("pattern")
            .attr("id", `sparse-${name}-${i}`)
            .attr("patternUnits", "userSpaceOnUse")
            .attr("width", tileSize)
            .attr("height", tileSize);
        sparse.selectAll("circle").data(sparseTile).join("circle")
            .attr("cx", d => d[0])
            .attr("cy", d => d[1])
            .attr("r", 1.25)
            .attr("fill", c);
        const dense = defs.append("pattern")
            .attr("id", `dense-${name}-${i}`)
            .attr("patternUnits", "userSpaceOnUse")
            .attr("width", tileSize)
            .attr("height", tileSize);
        dense.append("rect")
            .attr("width", tileSize)
            .attr("height", tileSize)
            .attr("fill", c);
        dense.selectAll("circle").data(denseTile).join("circle")
            .attr("cx", d => d[0])
            .attr("cy", d => d[1])
            .attr("r", 1.15)
            .attr("fill", "#fff");
    });
};
addPatterns("old", paletteOld);
addPatterns("r4", paletteR4);

/**
 * draw one Manhattan panel
 * @param {*} p : layout and data of the panel
 */
const drawPanel = (p) => {
    const x = d3.scaleLinear().domain([0, genomeSpan]).range(p.xRange);
    const y = d3.scaleLinear().domain([0, p.yMax]).range(p.yRange);
    const g = svg.append("g").attr("filter", "url(#soft)");
    const chrColor = (i) => p.palette[i % 8];

    // each chromosome is a row of columns going from sparse speckle to solid colour
    const columns = p.solid.flatMap((heights, i) => {
        const w = (chrEnd[i] - chrStart[i]) / heights.length;
        return heights.map((h, k) => ({
            chr: i,
            from: chrStart[i] + k * w,
            to: chrStart[i] + (k + 1) * w,
            solid: h,
            top: p.fringe[i][k],
            mid: (h + p.fringe[i][k]) / 2
        }));
    });
    const drawColumns = (key, fill) => {
        g.append("g").selectAll("rect").data(columns).join("rect")
            .attr("x", d => x(d.from))
            .attr("width", d => x(d.to) - x(d.from) + 0.3)
            .attr("y", d => y(d[key]))
            .attr("height", d => y(0) - y(d[key]) + 1)
            .attr("fill", fill);
    };
    drawColumns("top", d => `url(#sparse-${p.paletteName}-${d.chr % 8})`);
    drawColumns("mid", d => `url(#dense-${p.paletteName}-${d.chr % 8})`);
    drawColumns("solid", d => chrColor(d.chr));

    // white out the centromeres
    g.append("g").selectAll("rect").data(chrGaps).join("rect")
        .attr("x", d => x(d[0]))
        .attr("width", d => x(d[1]) - x(d[0]))
        .attr("y", y(p.yMax))
        .attr("height", y(0) - y(p.yMax) + 3)
        .attr("fill", "#fff");

    // loose points, the ones over the line are drawn larger
    const hits = p.hits.map(d => ({ pos: d[0] * p.unit, val: d[1] }));
    g.append("g").selectAll("ellipse").data(hits).join("ellipse")
        .attr("cx", d => x(d.pos))
        .attr("cy", d => y(d.val))
        .attr("rx", d => d.val > p.line ? p.big[0] : p.small[0])
        .attr("ry", d => d.val > p.line ? p.big[1] : p.small[1])
        .attr("fill", d => chrColor(Math.min(d3.bisectLeft(chrEnd, d.pos), 21)));

    // threshold
    g.append("line")
        .attr("x1", p.axisX)
        .attr("x2", 901)
        .attr("y1", y(p.line))
        .attr("y2", y(p.line))
        .attr("stroke", p.lineColor)
        .attr("stroke-width", p.lineWidth);

    // y axis, R style: labels turned sideways
    const yAxis = g.append("g")
        .attr("transform", `translate(${p.axisX},0)`)
        .call(d3.axisLeft(y).tickValues(d3.range(0, p.yMax + 1, 2)).tickSize(8).tickSizeOuter(0));
    yAxis.select(".domain").attr("stroke", "#b0b0b0").attr("stroke-width", 1.5);
    yAxis.selectAll(".tick line").attr("stroke", "#a8a8a8").attr("stroke-width", 1);
    yAxis.selectAll(".tick text")
        .attr("x", 0)
        .attr("dy", "0.35em")
        .attr("text-anchor", "middle")
        .attr("fill", "#3c3c3c")
        .style("font-size", p.tickFont + "px")
        .style("font-family", "'Liberation Sans', Arial, sans-serif")
        .attr("transform", `translate(${p.yTickX - p.axisX},0) rotate(-90)`);

    // x axis: ticks on chromosome borders, labels half way between them
    const xAxis = g.append("g")
        .attr("transform", `translate(0,${p.xAxisY})`)
        .call(d3.axisBottom(x).tickValues(tickPos).tickSize(p.xTickLen).tickFormat(""));
    xAxis.select(".domain").remove();
    xAxis.selectAll(".tick line").attr("stroke", "#9a9a9a").attr("stroke-width", 1);
    xAxis.append("line")
        .attr("x1", x(tickPos[0]))
        .attr("x2", x(tickPos[tickPos.length - 1]))
        .attr("stroke", "#aaa")
        .attr("stroke-width", 1.5);
    const mids = d3.pairs(tickPos).map(d => (d[0] + d[1]) / 2);
    g.append("g").selectAll("text").data(mids).join("text")
        .attr("x", d => x(d))
        .attr("y", p.xLabelY)
        .attr("text-anchor", "middle")
        .attr("fill", "#3c3c3c")
        .style("font-size", p.tickFont + "px")
        .text((d, i) => p.labels[i]);

    g.append("text")
        .attr("x", p.xTitle[0])
        .attr("y", p.xTitle[1])
        .attr("text-anchor", "middle")
        .attr("fill", "#3c3c3c")
        .style("font-size", p.xTitle[2] + "px")
        .text("chromosome");

    const yTitle = g.append("text")
        .attr("transform", `translate(${p.yTitle[0]},${p.yTitle[1]}) rotate(-90)`)
        .attr("text-anchor", "middle")
        .attr("fill", "#3c3c3c")
        .style("font-size", p.yTitle[2] + "px");
    yTitle.append("tspan").text("Observed -log ");
    yTitle.append("tspan").style("font-size", p.yTitle[2] * 0.7 + "px").text("10");
    yTitle.append("tspan").text("(P-values)");

    // panel heading
    g.append("text")
        .attr("x", p.head[0])
        .attr("y", p.head[1])
        .attr("fill", "#111")
        .style("font-size", "27px")
        .style("font-weight", "bold")
        .text(p.tag);
    g.append("text")
        .attr("x", p.head[2])
        .attr("y", p.head[1])
        .attr("fill", "#222")
        .style("font-family", "'Liberation Serif', 'DejaVu Serif', serif")
        .style("font-size", p.head[3] + "px")
        .text(p.name);
};

drawPanel({
    tag: "(A)", name: "InterGEN", head: [45, 29, 90, 27],
    palette: paletteOld, paletteName: "old", solid: solidA, fringe: fringeA, hits: hitsA, unit: 1, labels: labelsAB,
    xRange: [110, 874], yMax: 12, yRange: [566, 66.5], line: 5.74, axisX: 79,
    lineColor: "#ff9c9c", lineWidth: 2, big: [2.2, 2.2], small: [1.1, 1.1],
    xAxisY: 586, xTickLen: 8, xLabelY: 617, tickFont: 14, yTickX: 55,
    xTitle: [491, 642, 13.5], yTitle: [20, 316, 14]
});
drawPanel({
    tag: "(B)", name: "GENOA", head: [40, 699, 85, 27],
    palette: paletteR4, paletteName: "r4", solid: solidB, fringe: fringeB, hits: hitsB, unit: 1, labels: labelsAB,
    xRange: [110, 874], yMax: 10, yRange: [1100.3, 729.7], line: 5.37, axisX: 80,
    lineColor: "#ff8f8f", lineWidth: 1.3, big: [2.3, 1.7], small: [1.2, 1],
    xAxisY: 1116, xTickLen: 6.5, xLabelY: 1141, tickFont: 12, yTickX: 56,
    xTitle: [491, 1167, 11.5], yTitle: [20, 906, 11]
});
drawPanel({
    tag: "(C)", name: "GENOA Female Only", head: [46, 1231, 88, 27],
    palette: paletteR4, paletteName: "r4", solid: solidC, fringe: fringeC, hits: hitsC, unit: genomeSpan / 747, labels: labelsC,
    xRange: [141.7, 888.7], yMax: 10, yRange: [1572.3, 1270], line: 6.12, axisX: 113.3,
    lineColor: "#ff7f7f", lineWidth: 1.3, big: [2.2, 2.2], small: [1.1, 1.1],
    xAxisY: 1585, xTickLen: 7, xLabelY: 1613, tickFont: 19, yTickX: 87,
    xTitle: [515, 1644, 19], yTitle: [50, 1413, 19]
});

// grey rule under the first heading
svg.append("line")
    .attr("x1", 79)
    .attr("x2", 901)
    .attr("y1", 45)
    .attr("y2", 45)
    .attr("stroke", "#c4c4c4")
    .attr("stroke-width", 1.5);
</script>
</body>
</html>
